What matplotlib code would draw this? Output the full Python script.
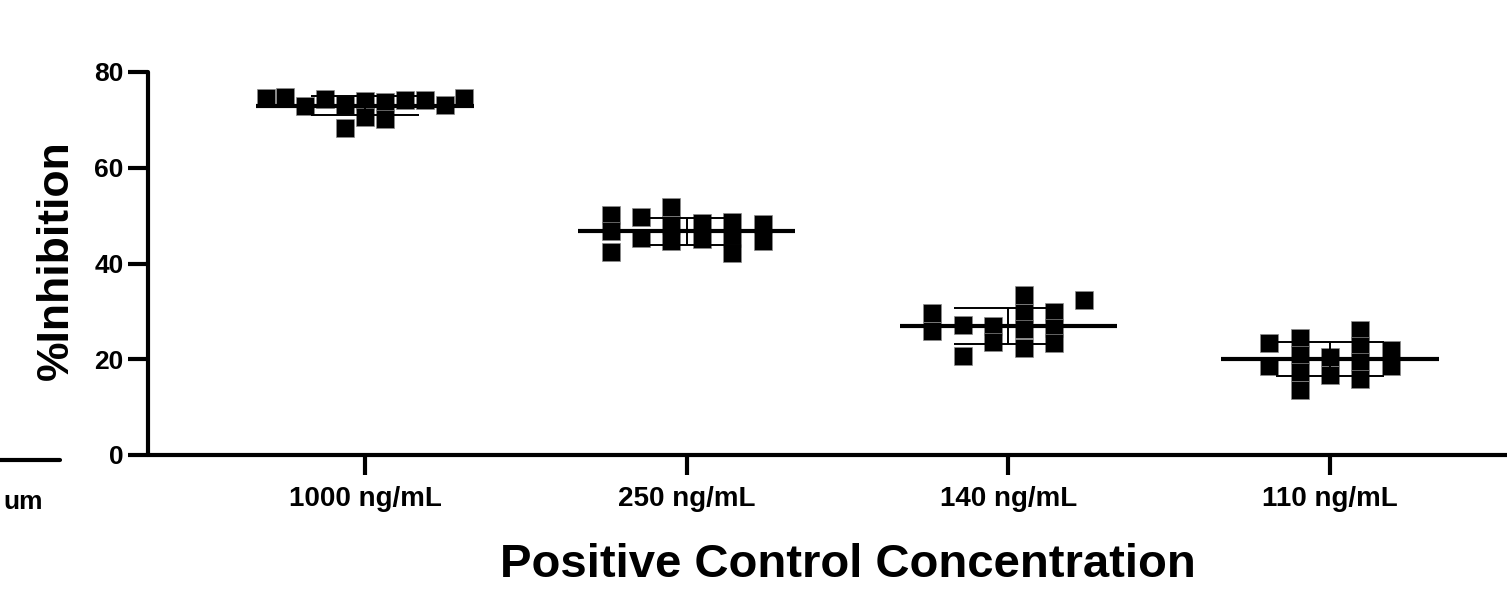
import matplotlib
matplotlib.use("Agg")
import matplotlib.pyplot as plt
from matplotlib.lines import Line2D
import numpy as np

plt.rcParams["font.family"] = ["Liberation Sans", "DejaVu Sans"]
plt.rcParams["font.weight"] = "bold"

categories = ["1000 ng/mL", "250 ng/mL", "140 ng/mL", "110 ng/mL"]

# % inhibition replicates, grouped by the swarm column they occupy (left to right)
inhib_1000 = [[74.6], [74.7], [72.8], [74.3], [73.1, 68.3], [73.9, 70.6],
              [73.7, 70.1], [74.1], [74.1], [73.1], [74.5]]
inhib_250 = [[50.1, 46.8, 42.4], [49.8, 45.4], [51.7, 48.1, 44.6],
             [48.4, 45.1], [48.6, 45.3, 42.2], [48.2, 44.7]]
inhib_140 = [[29.7, 25.8], [27.1, 20.7], [27.0, 23.7],
             [33.5, 29.6, 26.3, 22.3], [29.9, 26.5, 23.4], [32.4]]
inhib_110 = [[23.4, 18.6], [24.5, 20.8, 17.3, 13.6], [20.5, 16.7],
             [26.2, 22.8, 19.4, 15.9], [21.9, 18.6]]
groups = [inhib_1000, inhib_250, inhib_140, inhib_110]

yticks = [0, 20, 40, 60, 80]

W, H, DPI = 1507, 592, 100
fig = plt.figure(figsize=(W / DPI, H / DPI), dpi=DPI)
ax = fig.add_axes([148 / W, 1 - 455 / H, (1547 - 148) / W, (455 - 72) / H])

max_col_step = 0.0945
swarm_width = 0.68
mean_half = 0.338
cap_half = 0.168

for i, cols in enumerate(groups):
    n = len(cols)
    step = min(max_col_step, swarm_width / n)
    xs, ys = [], []
    for j, col in enumerate(cols):
        for v in col:
            xs.append(i + (j - (n - 1) / 2) * step)
            ys.append(v)
    ys = np.array(ys)
    m = ys.mean()
    sd = ys.std(ddof=1)
    ax.plot(xs, ys, linestyle="none", marker="s", markersize=12.3,
            markerfacecolor="black", markeredgecolor="0.55",
            markeredgewidth=0.5, zorder=3)
    ax.hlines(m, i - mean_half, i + mean_half, color="black", lw=3.0,
              zorder=4, capstyle="butt")
    ax.vlines(i, m - sd, m + sd, color="black", lw=1.4, zorder=4)
    ax.hlines([m - sd, m + sd], i - cap_half, i + cap_half, color="black",
              lw=1.4, zorder=4)

ax.set_xlim(-0.6745, len(categories) - 1 + 0.6745)
ax.set_ylim(0, 80)
ax.set_yticks(yticks)
ax.set_xticks(range(len(categories)))
ax.set_xticklabels(categories)

for s in ["top", "right"]:
    ax.spines[s].set_visible(False)
for s in ["left", "bottom"]:
    ax.spines[s].set_linewidth(3.0)
    ax.spines[s].set_capstyle("round")

ax.tick_params(axis="both", width=3.0, length=14.4, color="black")
ax.tick_params(axis="y", labelsize=19, pad=3)
ax.tick_params(axis="x", labelsize=20, pad=8)
for lab in ax.get_xticklabels() + ax.get_yticklabels():
    lab.set_fontweight("bold")

ax.set_ylabel("%Inhibition", fontsize=32, fontweight="bold", va="center")
ax.yaxis.set_label_coords(-0.0655, 0.51)
ax.set_xlabel("Positive Control Concentration", fontsize=34,
              fontweight="bold", va="center")
ax.xaxis.set_label_coords(0.5, -0.287)

# edge of the neighbouring panel
fig.add_artist(Line2D([0, 60 / W], [1 - 460 / H, 1 - 460 / H], color="black",
                      lw=3.0, solid_capstyle="round"))
fig.text(3 / W, 1 - 502 / H, "um", ha="left", va="center", fontsize=19,
         fontweight="bold")

fig.savefig("out.png", dpi=DPI)
